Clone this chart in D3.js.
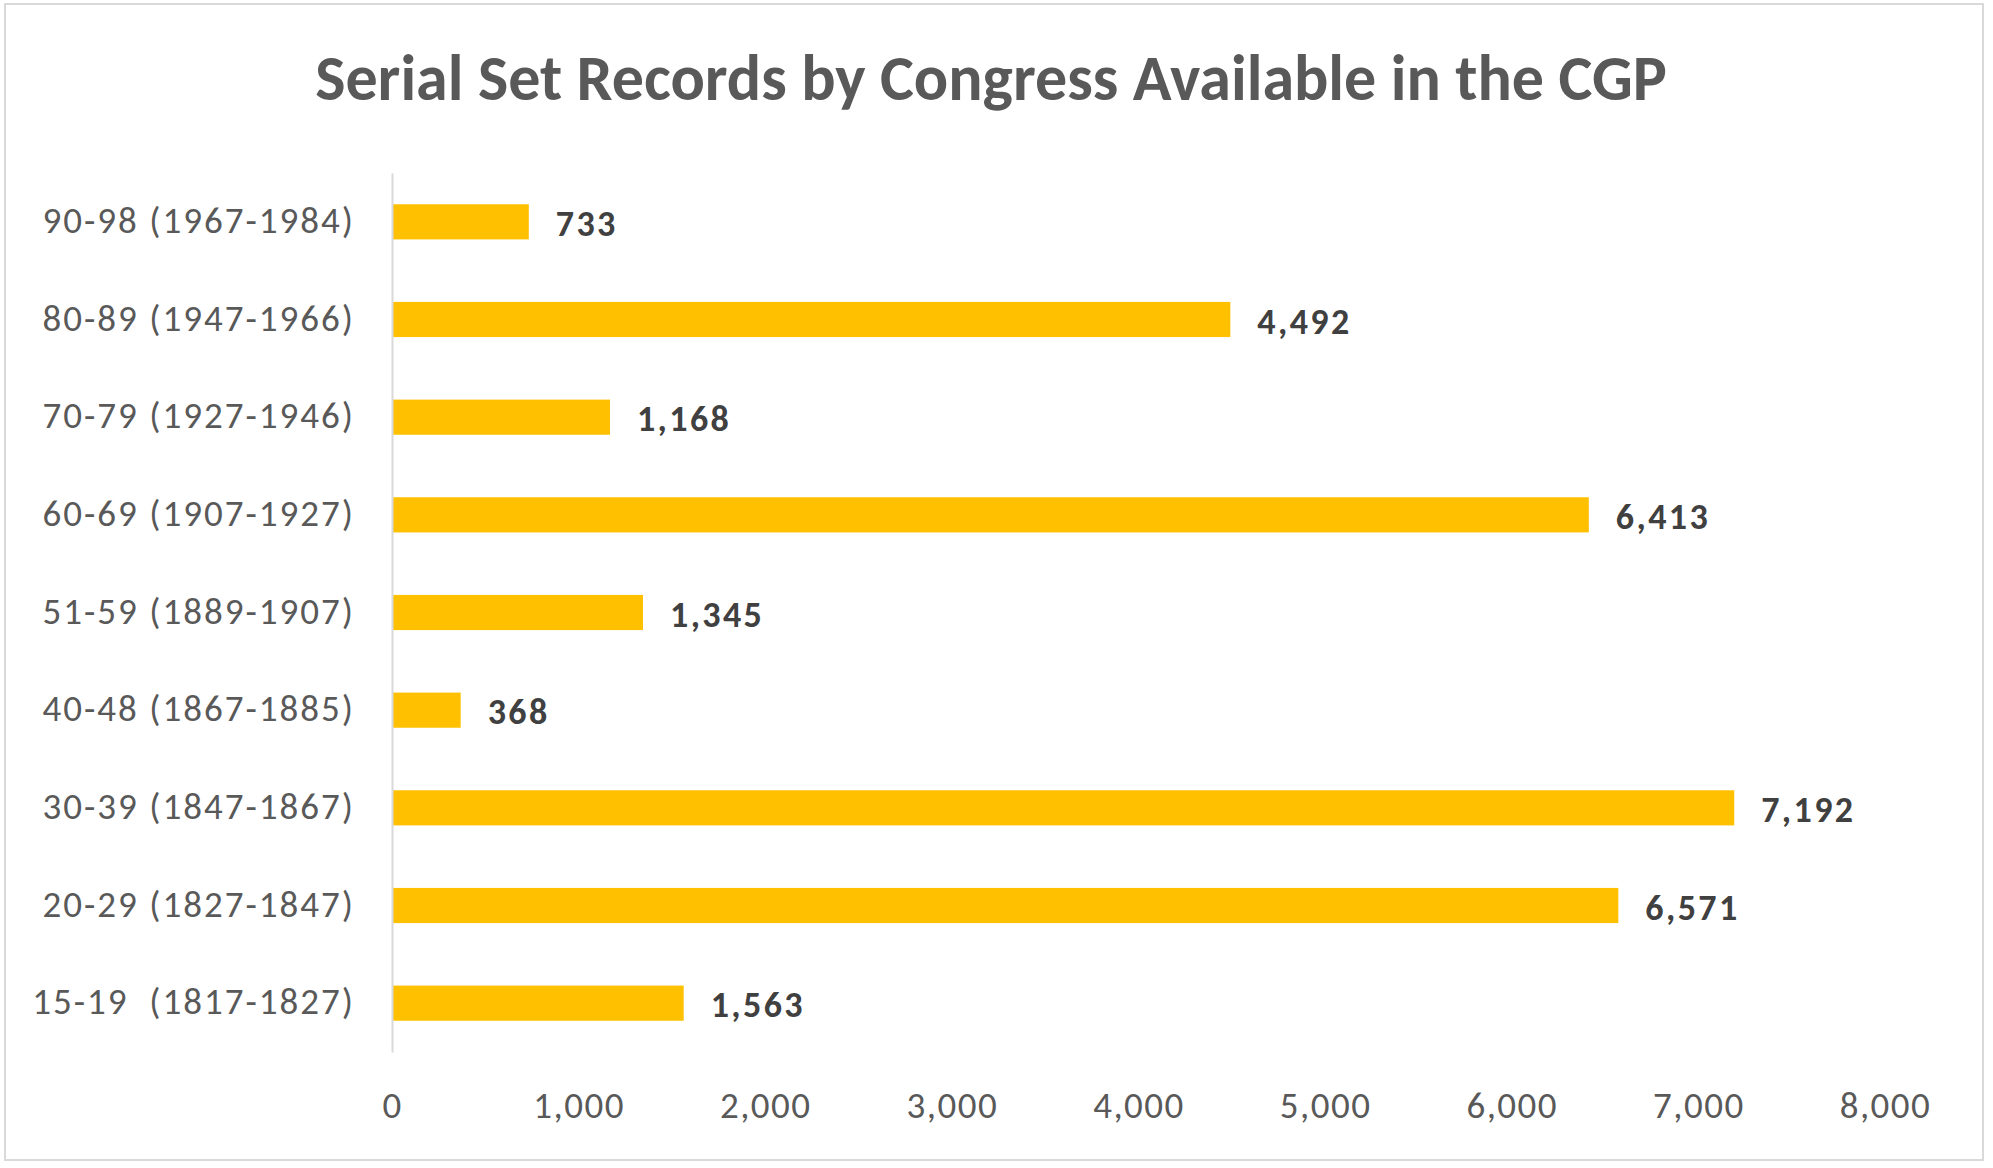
<!DOCTYPE html>
<html>
<head>
<meta charset="utf-8">
<script src="https://cdn.jsdelivr.net/npm/d3@7"></script>
<style>
  html, body { margin: 0; padding: 0; background: #fff; }
  svg { display: block; }
  text { font-family: Carlito, Calibri, Lato, "Open Sans", sans-serif; }
</style>
</head>
<body>
<svg id="chart" width="1993" height="1168"></svg>
<script>
const title = "Serial Set Records by Congress Available in the CGP";
const categories = [
  "90-98 (1967-1984)",
  "80-89 (1947-1966)",
  "70-79 (1927-1946)",
  "60-69 (1907-1927)",
  "51-59 (1889-1907)",
  "40-48 (1867-1885)",
  "30-39 (1847-1867)",
  "20-29 (1827-1847)",
  "15-19  (1817-1827)"
];
const records = [733, 4492, 1168, 6413, 1345, 368, 7192, 6571, 1563];
const xTicks = [0, 1000, 2000, 3000, 4000, 5000, 6000, 7000, 8000];

const svg = d3.select("#chart");
const W = 1993, H = 1168;

svg.append("rect").attr("width", W).attr("height", H).attr("fill", "#fff");
svg.append("rect")
  .attr("x", 5).attr("y", 4).attr("width", 1978).attr("height", 1156)
  .attr("fill", "none").attr("stroke", "#d9d9d9").attr("stroke-width", 2);

const x = d3.scaleLinear().domain([0, 8000]).range([392, 1885]);
const y = d3.scaleBand().domain(categories).range([173, 1052])
  .paddingInner(0.64).paddingOuter(0.32);

// Title
const t = svg.append("text")
  .attr("x", 991).attr("y", 100)
  .attr("text-anchor", "middle")
  .attr("fill", "#595959")
  .attr("font-weight", "bold")
  .attr("font-size", 57)
  .text(title);
const tw = t.node().getComputedTextLength();
t.attr("font-size", 57 * 1352 / tw);

// Bars
svg.append("g").selectAll("rect")
  .data(categories)
  .join("rect")
  .attr("x", x(0))
  .attr("y", d => y(d))
  .attr("height", y.bandwidth())
  .attr("width", (d, i) => x(records[i]) - x(0))
  .attr("fill", "#FFC000");

// Left axis
const gy = svg.append("g")
  .attr("transform", `translate(${x(0)},0)`)
  .call(d3.axisLeft(y).tickSize(0).tickPadding(37));
gy.select(".domain").attr("stroke", "#d9d9d9").attr("stroke-width", 2);
gy.selectAll(".tick text")
  .attr("fill", "#595959")
  .attr("font-size", 37)
  .attr("letter-spacing", 2)
  .attr("dy", "0.3em")
  .style("white-space", "pre")
  .attr("font-family", null);

// Bottom axis
const gx = svg.append("g")
  .attr("transform", `translate(0,1052)`)
  .call(d3.axisBottom(x).tickValues(xTicks).tickFormat(d3.format(",")).tickSize(0));
gx.select(".domain").remove();
gx.selectAll(".tick text")
  .attr("fill", "#595959")
  .attr("font-size", 37)
  .attr("letter-spacing", 1.5)
  .attr("y", 66)
  .attr("dy", 0)
  .attr("font-family", null);

// Data labels
svg.append("g").selectAll("text")
  .data(categories)
  .join("text")
  .attr("x", (d, i) => x(records[i]) + 27)
  .attr("y", d => y(d) + y.bandwidth() / 2 + 14)
  .attr("fill", "#404040")
  .attr("font-weight", "bold")
  .attr("font-size", 36)
  .attr("letter-spacing", 2.4)
  .text((d, i) => d3.format(",")(records[i]));
</script>
</body>
</html>
